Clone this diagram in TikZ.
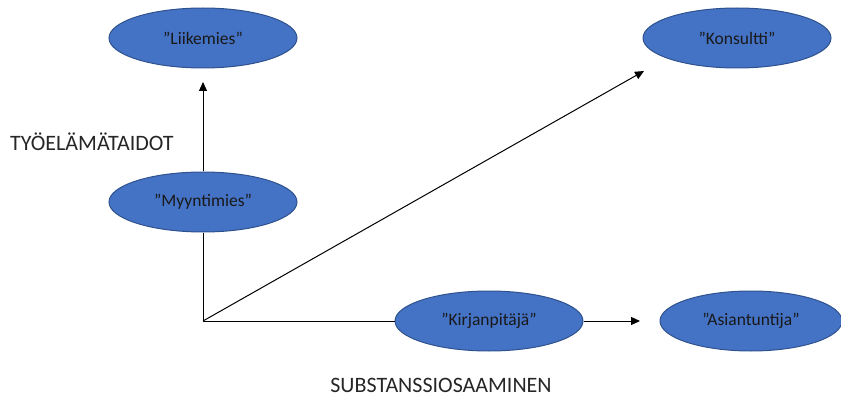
\documentclass[tikz,border=0pt]{standalone}
\usepackage{fontspec}
\setmainfont{Carlito}
\usetikzlibrary{shapes.geometric,arrows.meta}
\definecolor{ellfill}{HTML}{4472C4}
\definecolor{ellline}{HTML}{2F528F}
\tikzset{
  role/.style={ellipse, draw=ellline, line width=1pt, fill=ellfill, inner sep=0pt,
    minimum width=188pt, minimum height=60pt, font=\fontsize{17.5}{20}\selectfont, text=black!90},
  conn/.style={line width=1pt, draw=black},
  arr/.style={conn, -{Triangle[length=9pt,width=8pt]}},
  axislabel/.style={font=\fontsize{22}{26}\selectfont, text=black!85, inner sep=0pt}
}
\begin{document}
\begin{tikzpicture}[x=1pt,y=-1pt]
\useasboundingbox (0,0) rectangle (841,401);
\node[role] (liik) at (203,38) {”Liikemies”};
\node[role] (kons) at (737,38) {”Konsultti”};
\node[role] (myyn) at (203,202) {”Myyntimies”};
\node[role] (kirj) at (489,321) {”Kirjanpitäjä”};
\node[role, minimum width=182pt] (asia) at (751,321) {”Asiantuntija”};
\coordinate (o) at (203,321);
\coordinate (vtip) at (203,82);
\coordinate (dtip) at (644,71);
\coordinate (htip) at (640,321);
\node[axislabel, anchor=west] (tyo) at (10,142) {TYÖELÄMÄTAIDOT};
\node[axislabel] (sub) at (441,385) {SUBSTANSSIOSAAMINEN};
\draw[conn] (o) -- (myyn.south);
\draw[arr] (myyn.north) -- (vtip);
\draw[arr] (o) -- (dtip);
\draw[conn] (o) -- (kirj.west);
\draw[arr] (kirj.east) -- (htip);
\end{tikzpicture}
\end{document}
